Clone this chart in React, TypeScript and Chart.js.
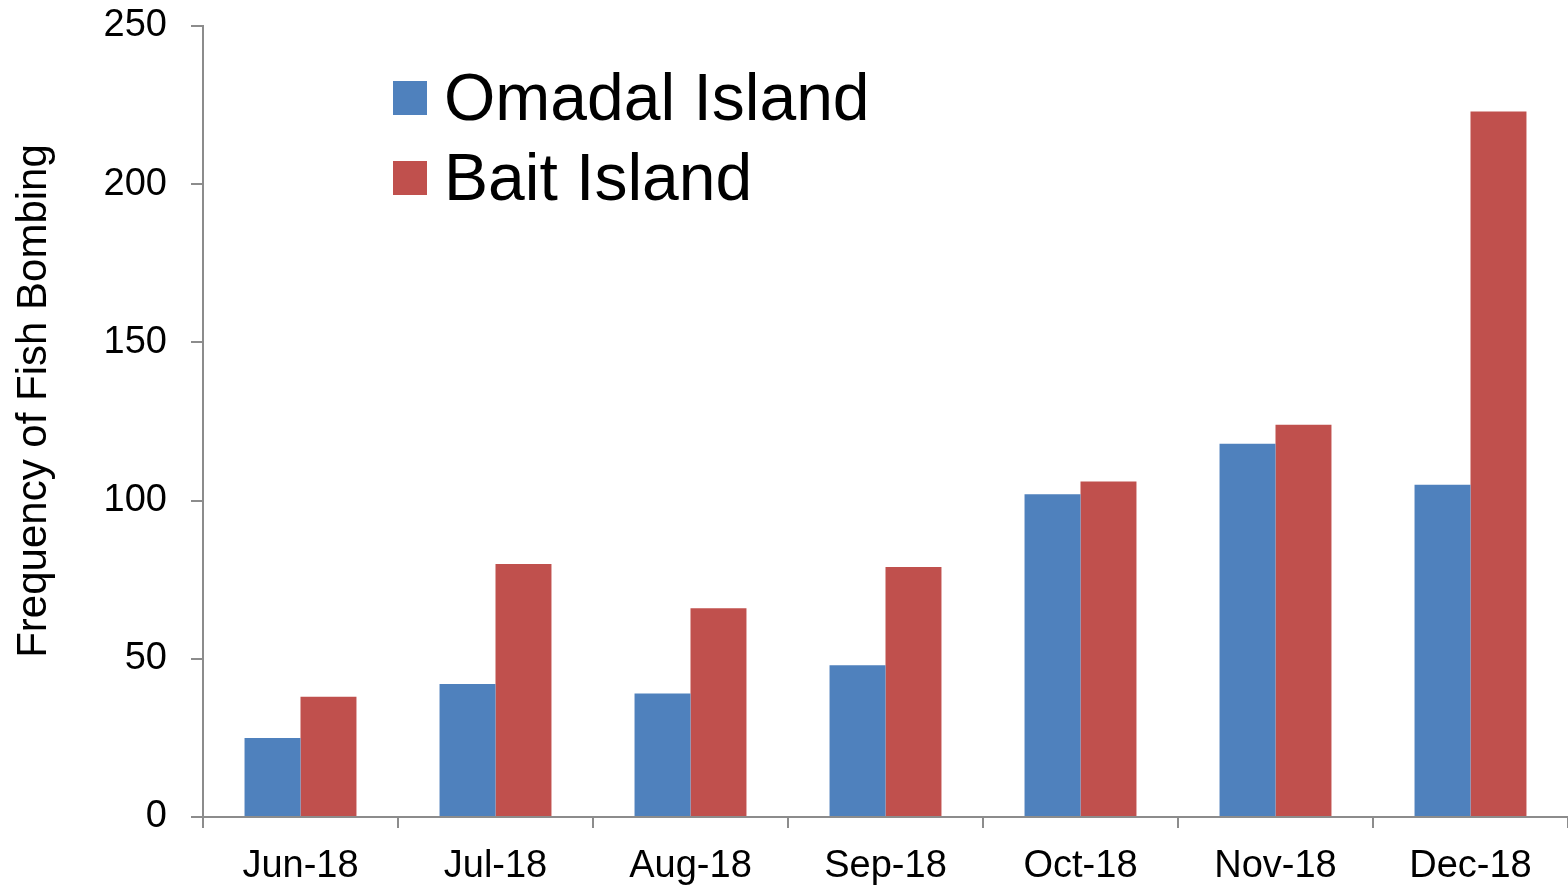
import React, { useEffect, useRef } from "react";
import { Chart, registerables } from "chart.js";

Chart.register(...registerables);

const categories = ["Jun-18", "Jul-18", "Aug-18", "Sep-18", "Oct-18", "Nov-18", "Dec-18"];
const omadal = [25, 42, 39, 48, 102, 118, 105];
const bait = [38, 80, 66, 79, 106, 124, 223];
const seriesNames = ["Omadal Island", "Bait Island"];
const seriesColors = ["#4F81BD", "#C0504D"];
const yTicks = [0, 50, 100, 150, 200, 250];
const yTitle = "Frequency of Fish Bombing";

const FONT = "'Liberation Sans', Arial, sans-serif";
const AXIS = "#8C8C8C";

const decorPlugin = {
  id: "decor",
  afterDraw(chart: any) {
    const ctx = chart.ctx;
    ctx.save();
    ctx.font = `66px ${FONT}`;
    ctx.textBaseline = "alphabetic";
    ctx.textAlign = "left";
    const x0 = 393;
    const baselines = [120, 200];
    chart.data.datasets.forEach((ds: any, i: number) => {
      ctx.fillStyle = ds.backgroundColor;
      ctx.fillRect(x0, baselines[i] - 39, 34, 34);
      ctx.fillStyle = "#000";
      ctx.fillText(ds.label, x0 + 51, baselines[i]);
    });
    ctx.restore();

    ctx.save();
    ctx.font = `42px ${FONT}`;
    ctx.fillStyle = "#000";
    ctx.textAlign = "center";
    ctx.textBaseline = "alphabetic";
    ctx.translate(46, 401);
    ctx.rotate(-Math.PI / 2);
    ctx.fillText(yTitle, 0, 0);
    ctx.restore();
  },
};

export default function App() {
  const ref = useRef<HTMLCanvasElement | null>(null);
  useEffect(() => {
    document.body.style.margin = "0";
    const chart = new Chart(ref.current!, {
      type: "bar",
      data: {
        labels: categories,
        datasets: [
          { label: seriesNames[0], data: omadal, backgroundColor: seriesColors[0] },
          { label: seriesNames[1], data: bait, backgroundColor: seriesColors[1] },
        ],
      },
      plugins: [decorPlugin],
      options: {
        animation: false,
        responsive: false,
        maintainAspectRatio: false,
        layout: { padding: { top: 26, right: -3, left: 0, bottom: 0 } },
        datasets: { bar: { barPercentage: 1, categoryPercentage: 0.574 } } as any,
        plugins: { legend: { display: false }, tooltip: { enabled: false } },
        scales: {
          x: {
            grid: { drawOnChartArea: false, drawTicks: true, tickLength: 11, color: AXIS, lineWidth: 2, offset: true },
            border: { color: AXIS, width: 2 },
            ticks: { color: "#000", font: { family: FONT, size: 38 }, padding: 16, maxRotation: 0 },
            afterFit(scale: any) {
              scale.height = 72;
              scale.paddingLeft = 0;
              scale.paddingRight = 0;
            },
          },
          y: {
            min: 0,
            max: 250,
            afterBuildTicks(scale: any) { scale.ticks = yTicks.map((v) => ({ value: v })); },
            grid: { drawOnChartArea: false, drawTicks: true, tickLength: 12, color: AXIS, lineWidth: 2 },
            border: { color: AXIS, width: 2 },
            ticks: { color: "#000", font: { family: FONT, size: 38 }, padding: 24 },
            afterFit(scale: any) {
              scale.width = 203;
              scale.paddingTop = 0;
              scale.paddingBottom = 0;
            },
          },
        },
      },
    });
    return () => chart.destroy();
  }, []);
  return (
    <div style={{ width: 1568, height: 889 }}>
      <canvas ref={ref} width={1568} height={889} style={{ display: "block" }} />
    </div>
  );
}
